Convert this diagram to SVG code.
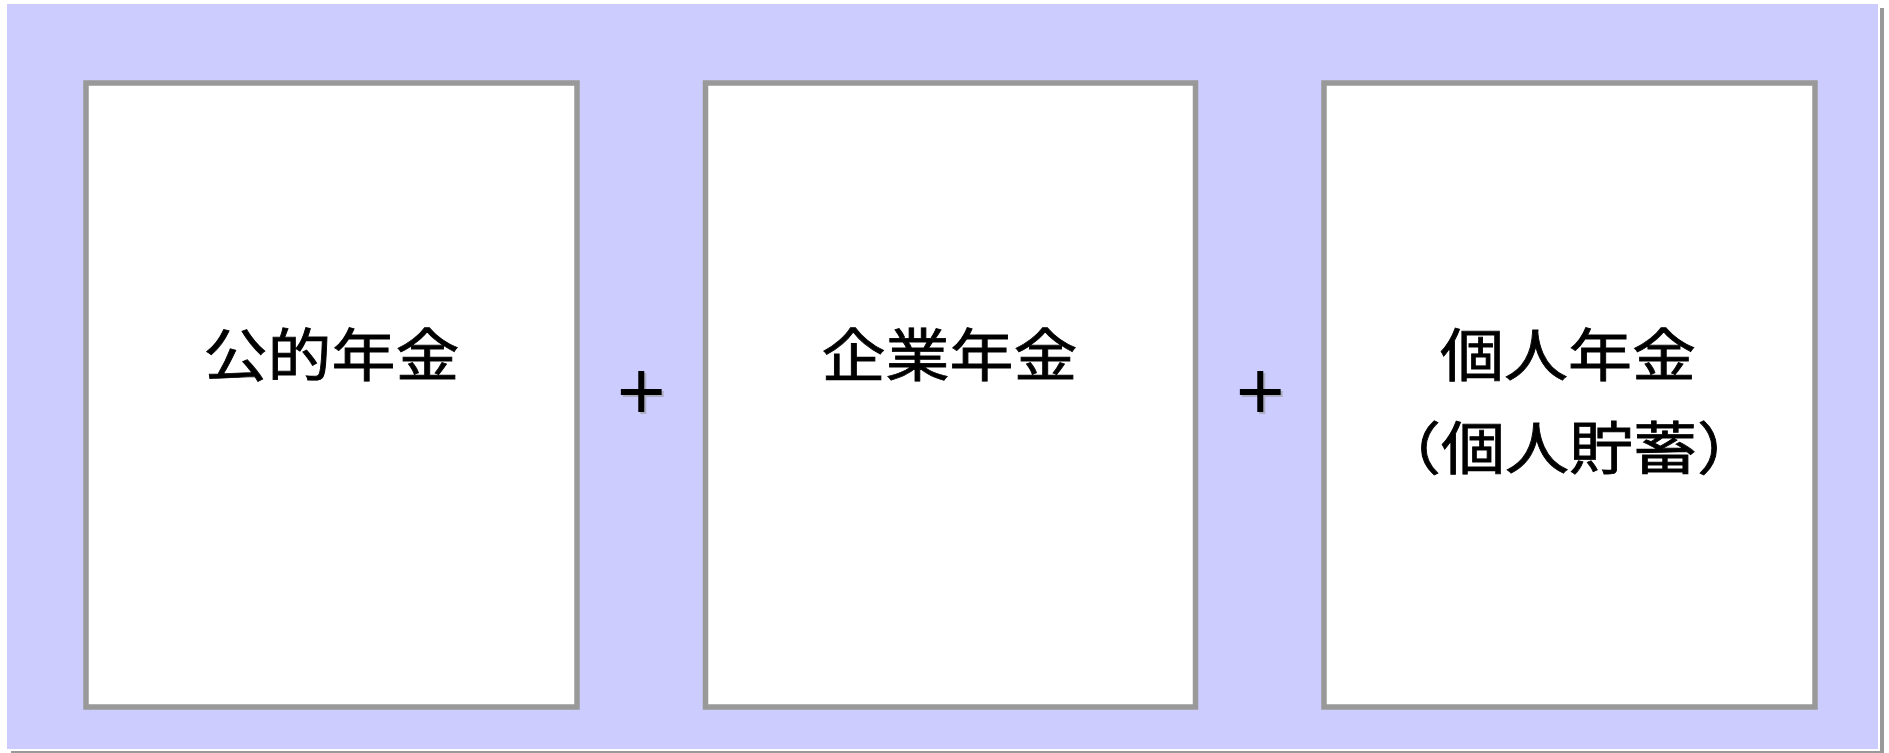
<svg xmlns="http://www.w3.org/2000/svg" width="1889" height="753" viewBox="0 0 1889 753">
<style>
.box{fill:#ffffff;stroke:#999999;stroke-width:5.5}
.lbl{font-family:"Noto Sans CJK JP","Noto Sans CJK SC",sans-serif;font-size:64px;fill:#000000;stroke:#000000;stroke-width:0.9;text-anchor:middle}
.plus{font-family:"Liberation Sans",Arial,sans-serif;font-size:84px;text-anchor:middle}
</style>
<rect x="11" y="8" width="1873" height="746" fill="#999999"/>
<rect x="7" y="4" width="1873" height="747" fill="#ffffff"/>
<rect x="7" y="4" width="1871" height="745" fill="#ccccff"/>
<g id="node-public">
<rect class="box" x="86" y="83" width="491" height="624"/>
<text class="lbl" x="331.5" y="377" transform="matrix(1 0 0 0.89 0 40.2)">公的年金</text>
</g>
<g id="node-corporate">
<rect class="box" x="705.5" y="83" width="490" height="624"/>
<text class="lbl" x="949.5" y="377" transform="matrix(1 0 0 0.89 0 40.2)">企業年金</text>
</g>
<g id="node-personal">
<rect class="box" x="1324" y="83" width="491" height="624"/>
<text class="lbl" x="1568" y="377" transform="matrix(1 0 0 0.89 0 40.2)">個人年金</text>
<text class="lbl" x="1569" y="471" transform="matrix(1 0 0 0.89 0 49.6)">（個人貯蓄）</text>
</g>
<g id="connectors">
<text class="plus" x="643.3" y="421" fill="#999999" opacity="0.6">+</text>
<text class="plus" x="641.3" y="419" fill="#000000">+</text>
<text class="plus" x="1262.2" y="421" fill="#999999" opacity="0.6">+</text>
<text class="plus" x="1260.2" y="419" fill="#000000">+</text>
</g>
</svg>
